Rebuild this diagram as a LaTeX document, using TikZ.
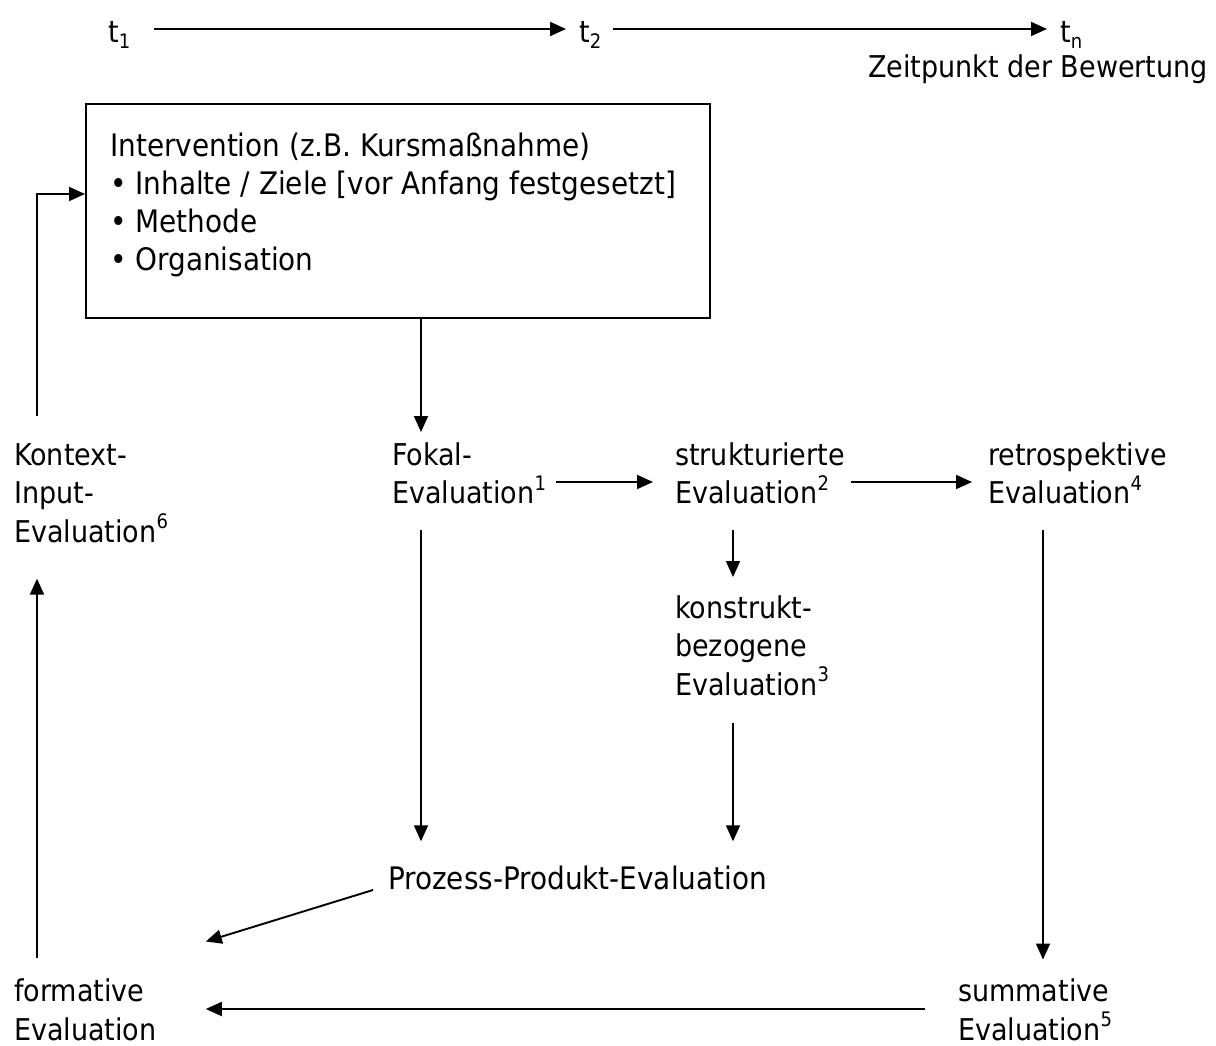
\documentclass[tikz,border=0pt]{standalone}
\usepackage{fontspec}
\setmainfont{DejaVu Sans Condensed}
\usetikzlibrary{arrows.meta,calc}
% raised footnote digits and lowered time indices
\newcommand\hochz[1]{\raisebox{0.45em}{\fontsize{20}{20}\selectfont #1}}
\newcommand\tiefz[1]{\raisebox{-0.2em}{\fontsize{20}{20}\selectfont #1}}
\begin{document}
\begin{tikzpicture}[x=1pt,y=-1pt,
  lbl/.style={anchor=base west, inner sep=0pt, align=left,
    font=\fontsize{30}{38.5}\selectfont},
  arr/.style={line width=1.9pt, -{Triangle[length=16pt,width=14pt]}},
  frame/.style={draw, line width=1.9pt, inner sep=0pt, anchor=north west}]
\useasboundingbox (0,0) rectangle (1216,1046);

% time axis
\node[lbl] (t1) at (108,43) {t\tiefz{1}};
\node[lbl] (t2) at (579,43) {t\tiefz{2}};
\node[lbl] (tn) at (1060,43) {t\tiefz{n}};
\node[lbl] (zeit) at (868,78) {Zeitpunkt der Bewertung};
\draw[arr, shorten <=24pt, shorten >=13pt] (t1.east |- 0,29) -- (t2.west |- 0,29);
\draw[arr, shorten <=12pt, shorten >=13pt] (t2.east |- 0,29) -- (tn.west |- 0,29);

% intervention box (multi-line labels are placed by their last baseline)
\node[frame, minimum width=624pt, minimum height=214pt] (box) at (85,103) {};
\node[lbl, font=\fontsize{31}{37.7}\selectfont] (intv) at (110,270)
  {Intervention (z.B. Kursmaßnahme)\\
   • Inhalte / Ziele [vor Anfang festgesetzt]\\
   • Methode\\
   • Organisation};

% evaluation labels
\node[lbl] (kontext) at (14,542) {Kontext-\\Input-\\Evaluation\hochz{6}};
\node[lbl] (fokal) at (392,503.5) {Fokal-\\Evaluation\hochz{1}};
\node[lbl] (strukt) at (675,503.5) {strukturierte\\Evaluation\hochz{2}};
\node[lbl] (retro) at (988,503.5) {retrospektive\\Evaluation\hochz{4}};
\node[lbl] (konstr) at (675,695) {konstrukt-\\bezogene\\Evaluation\hochz{3}};
\node[lbl, font=\fontsize{31}{38.5}\selectfont] (prozess) at (388,889) {Prozess-Produkt-Evaluation};
\node[lbl] (formativ) at (14,1040) {formative\\Evaluation};
\node[lbl] (summativ) at (958,1040) {summative\\Evaluation\hochz{5}};

% connectors
\draw[arr] (kontext.north -| 37,0) ++(0,-27) |- (box.west |- 0,194);
\draw[arr, shorten >=10pt] (box.south -| 421,0) -- (fokal.north -| 421,0);
\draw[arr, shorten <=10pt, shorten >=22pt] (fokal.east |- 0,482) -- (strukt.west |- 0,482);
\draw[arr, shorten <=6pt, shorten >=16pt] (strukt.east |- 0,482) -- (retro.west |- 0,482);
\draw[arr, shorten <=26pt, shorten >=18pt] (strukt.south -| 733,0) -- (konstr.north -| 733,0);
\draw[arr, shorten <=27pt, shorten >=24pt] (konstr.south -| 733,0) -- (prozess.north -| 733,0);
\draw[arr, shorten <=26pt, shorten >=24pt] (fokal.south -| 421,0) -- (prozess.north -| 421,0);
\draw[arr, shorten <=26pt, shorten >=19pt] (retro.south -| 1043,0) -- (summativ.north -| 1043,0);
\draw[arr] ($(prozess.base west)+(-15,1)$) -- ($(formativ.north east)+(49,-37)$);
\draw[arr, shorten <=33pt, shorten >=49pt] (summativ.west |- 0,1009) -- (formativ.east |- 0,1009);
\draw[arr] (formativ.north -| 37,0) ++(0,-21) -- ($(kontext.south -| 37,0)+(0,36)$);
\end{tikzpicture}
\end{document}
